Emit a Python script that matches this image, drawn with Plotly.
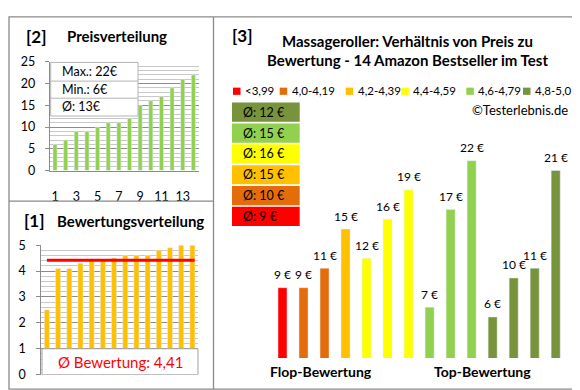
import plotly.graph_objects as go

W, H = 580, 390
def px(x): return x / W
def py(y): return 1 - y / H

# ---------------- data ----------------
price_sorted = [6, 7, 9, 9, 10, 11, 11, 12, 15, 16, 17, 19, 21, 22]
rating_sorted = [2.5, 4.1, 4.1, 4.3, 4.4, 4.4, 4.5, 4.6, 4.6, 4.6, 4.8, 4.9, 5.0, 5.0]
main_prices = [9, 9, 11, 15, 12, 16, 19, 7, 17, 22, 6, 10, 11, 21]
main_groups = [0, 1, 1, 2, 3, 3, 3, 4, 4, 4, 5, 5, 5, 5]
group_names = ["<3,99", "4,0-4,19", "4,2-4,39", "4,4-4,59", "4,6-4,79", "4,8-5,0"]
group_colors = ["#FF0000", "#E46C0A", "#FFC000", "#FFFF00", "#92D050", "#77933C"]
price_ticks = [1, 3, 5, 7, 9, 11, 13]
section_labels = ["Flop-Bewertung", "Top-Bewertung"]

FONT = "Lato"
GRID_MAJOR = "#8c8c8c"
GRID_MINOR = "#c8c8c8"
BORDER = "#8a8a8a"

n = len(price_sorted)
cats = list(range(1, n + 1))
mean_rating = sum(rating_sorted) / len(rating_sorted)
mean_price = sum(price_sorted) / len(price_sorted)

fig = go.Figure()

# [2] Preisverteilung
fig.add_trace(go.Bar(x=cats, y=price_sorted, marker_color="#92D050", width=0.38,
                     xaxis="x", yaxis="y", hoverinfo="skip"))
# [1] Bewertungsverteilung
fig.add_trace(go.Bar(x=cats, y=rating_sorted, marker_color="#FFC000", width=0.45,
                     xaxis="x2", yaxis="y2", hoverinfo="skip"))
fig.add_trace(go.Scatter(x=[1, n + 0.2], y=[mean_rating, mean_rating], mode="lines",
                         line=dict(color="#FF0000", width=3), xaxis="x2", yaxis="y2",
                         hoverinfo="skip"))
# [3] main chart
for g, (name, col) in enumerate(zip(group_names, group_colors)):
    xs = [i for i, gg in enumerate(main_groups) if gg == g]
    ys = [main_prices[i] for i in xs]
    fig.add_trace(go.Bar(x=xs, y=ys, name=name, marker_color=col, width=0.43,
                         xaxis="x3", yaxis="y3", hoverinfo="skip"))

annotations = []
shapes = []

# bar value labels
for i, v in enumerate(main_prices):
    annotations.append(dict(x=i, y=v, xref="x3", yref="y3", text=f"{v} €", showarrow=False,
                            yshift=13, yanchor="middle", font=dict(size=12, color="#000")))

# section labels
for lab, xc in zip(section_labels, [312.5, 474]):
    annotations.append(dict(x=px(xc), y=py(370), xref="paper", yref="paper", text=f"<b>{lab}</b>",
                            showarrow=False, xanchor="center", yanchor="middle",
                            font=dict(size=14, color="#000")))

# titles
def txt(x, y, t, size, anchor="left", color="#000"):
    annotations.append(dict(x=px(x), y=py(y), xref="paper", yref="paper", text=t, showarrow=False,
                            xanchor=anchor, yanchor="middle", font=dict(size=size, color=color)))

txt(16, 21, "<b>[2]</b>", 17)
txt(57, 21, "<b>Preisverteilung</b>", 15)
txt(14, 213, "<b>[1]</b>", 17)
txt(47, 213, "<b>Bewertungsverteilung</b>", 15)
txt(222, 20, "<b>[3]</b>", 17)
txt(399, 26, "<b>Massageroller: Verhältnis von Preis zu</b>", 15, "center")
txt(399, 46, "<b>Bewertung - 14 Amazon Bestseller im Test</b>", 15, "center")
txt(562, 98, "©Testerlebnis.de", 13, "right")

# legend
legend_x = [225, 271.7, 337.7, 393.3, 458.3, 515]
for name, col, lx in zip(group_names, group_colors, legend_x):
    shapes.append(dict(type="rect", xref="paper", yref="paper", x0=px(lx), x1=px(lx + 7.5),
                       y0=py(82), y1=py(74.5), fillcolor=col, line=dict(width=0)))
    txt(lx + 10, 78, name, 11.5)

# average boxes (top: best group)
for k, g in enumerate(reversed(range(len(group_names)))):
    vals = [p for p, gg in zip(main_prices, main_groups) if gg == g]
    avg = int(round(sum(vals) / len(vals)))
    top = 90 + k * 21.7
    shapes.append(dict(type="rect", xref="paper", yref="paper", x0=px(224), x1=px(291.7),
                       y0=py(top + 20), y1=py(top), fillcolor=group_colors[g], line=dict(width=0)))
    txt(233, top + 10, f"Ø: {avg} €", 12.5)

# info box in Preisverteilung
shapes.append(dict(type="rect", xref="paper", yref="paper", x0=px(42.7), x1=px(130),
                   y0=py(104), y1=py(48.3), fillcolor="white", line=dict(color="#b4b4b4", width=1)))
for yy in [67.7, 85.5]:
    shapes.append(dict(type="line", xref="paper", yref="paper", x0=px(42.7), x1=px(130),
                       y0=py(yy), y1=py(yy), line=dict(color="#b4b4b4", width=1)))
txt(52, 58, f"Max.: {max(price_sorted)}€", 12.5)
txt(52, 76.5, f"Min.: {min(price_sorted)}€", 12.5)
txt(52, 94.5, f"Ø: {int(round(mean_price))}€", 12.5)

# box in Bewertungsverteilung
shapes.append(dict(type="rect", xref="paper", yref="y2", x0=px(34), x1=px(190),
                   y0=0, y1=1, fillcolor="white", line=dict(color="#a0a0a0", width=1), layer="above"))
annotations.append(dict(x=px(112), y=0.5, xref="paper", yref="y2",
                        text=f"Ø Bewertung: {mean_rating:.2f}".replace(".", ","),
                        showarrow=False, xanchor="center", yanchor="middle",
                        font=dict(size=15, color="#FF0000")))

# panel borders
shapes.append(dict(type="rect", xref="paper", yref="paper", x0=px(1), x1=px(577.5),
                   y0=py(388), y1=py(1), line=dict(color=BORDER, width=1.3)))
shapes.append(dict(type="line", xref="paper", yref="paper", x0=px(205.5), x1=px(205.5),
                   y0=py(388), y1=py(1), line=dict(color=BORDER, width=1.3)))
shapes.append(dict(type="line", xref="paper", yref="paper", x0=px(1), x1=px(205.5),
                   y0=py(192.5), y1=py(192.5), line=dict(color=BORDER, width=1.3)))

axis_common = dict(showline=True, linecolor=GRID_MAJOR, linewidth=1, zeroline=False,
                   tickfont=dict(size=12.5, color="#000"))

fig.update_layout(
    width=W, height=H, margin=dict(l=0, r=0, t=0, b=0),
    paper_bgcolor="white", plot_bgcolor="white", showlegend=False,
    barmode="overlay", font=dict(family=FONT, color="#000"),
    xaxis=dict(domain=[px(41.7), px(190.7)], range=[0.5, n + 0.5], tickvals=price_ticks,
               anchor="y", showgrid=False, ticks="", ticklabelstandoff=14, **axis_common),
    yaxis=dict(domain=[py(160.7), py(47.7)], range=[0, 25], dtick=5, anchor="x",
               showgrid=True, gridcolor=GRID_MAJOR, gridwidth=1,
               minor=dict(dtick=1, showgrid=True, gridcolor=GRID_MINOR, gridwidth=1),
               ticks="outside", ticklen=4, tickcolor=GRID_MAJOR, ticklabelstandoff=7, **axis_common),
    xaxis2=dict(domain=[px(33.3), px(190)], range=[0.5, n + 0.5], anchor="y2",
                showticklabels=False, showgrid=False, showline=False, zeroline=False, ticks=""),
    yaxis2=dict(domain=[py(373), py(238.3)], range=[0, 5], dtick=1, anchor="x2",
                showgrid=True, gridcolor=GRID_MAJOR, gridwidth=1,
                minor=dict(dtick=0.2, showgrid=True, gridcolor=GRID_MINOR, gridwidth=1),
                ticks="outside", ticklen=4, tickcolor=GRID_MAJOR, ticklabelstandoff=8, **axis_common),
    xaxis3=dict(domain=[px(264), px(558.2)], range=[-0.5, n - 0.5], anchor="y3", visible=False),
    yaxis3=dict(domain=[py(355.7), py(120)], range=[1.8, 25.0], anchor="x3", visible=False),
    annotations=annotations, shapes=shapes,
)

fig.write_html("out.html")
